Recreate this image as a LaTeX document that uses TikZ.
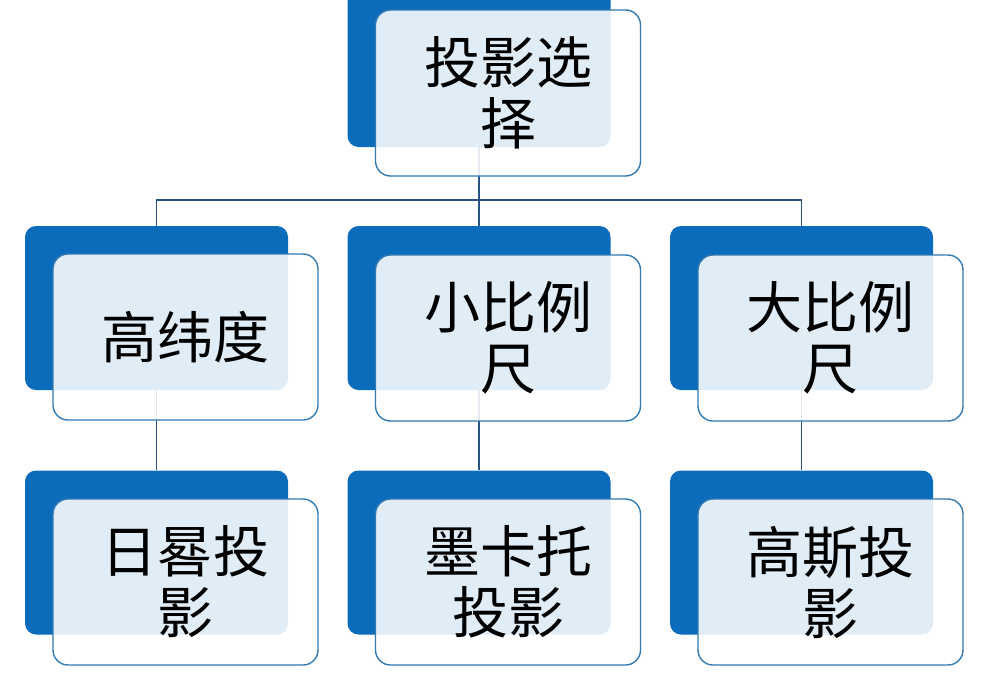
\documentclass[tikz,border=0pt]{standalone}
\usepackage{fontspec}
\newfontfamily\cjk{Noto Sans CJK SC}
\definecolor{backblue}{RGB}{12,108,188}
\definecolor{frontline}{RGB}{52,122,178}
\definecolor{connline}{RGB}{40,82,130}
\tikzset{
  backbox/.style={draw=none, fill=backblue, rounded corners=11pt, minimum width=263pt, minimum height=164pt, inner sep=0pt},
  frontbox/.style={draw=frontline, line width=1.4pt, fill=white, fill opacity=0.88, text opacity=1, rounded corners=15pt, minimum width=265pt, minimum height=166pt, inner sep=0pt, align=center, font=\cjk\fontsize{56}{61}\selectfont},
  conn/.style={draw=connline, line width=1.5pt}
}
\begin{document}
\begin{tikzpicture}[x=1pt,y=-1pt]
\useasboundingbox (0,0) rectangle (981,673);
\fill[white] (0,0) rectangle (981,673);
% back boxes
\node[backbox] (pb) at (479,65) {};
\node[backbox] (ab) at (156.5,308) {};
\node[backbox] (bb) at (479,308) {};
\node[backbox] (cb) at (801.5,308) {};
\node[backbox] (db) at (156.5,552.5) {};
\node[backbox] (eb) at (479,552.5) {};
\node[backbox] (fb) at (801.5,552.5) {};
% connectors
\coordinate (bus) at (0,200);
\draw[conn] (pb.south) -- (bb.north);
\draw[conn] (ab.north) -- (ab.north |- bus) -- (cb.north |- bus) -- (cb.north);
\draw[conn] (ab.south) -- (db.north);
\draw[conn] (bb.south) -- (eb.north);
\draw[conn] (cb.south) -- (fb.north);
% front boxes
\node[frontbox] (pf) at (508,93) {投影选\\择};
\node[frontbox] (af) at (185.5,337) {高纬度};
\node[frontbox] (bf) at (508,338) {小比例\\尺};
\node[frontbox] (cf) at (830.5,338) {大比例\\尺};
\node[frontbox] (df) at (185.5,582) {日晷投\\影};
\node[frontbox] (ef) at (508,582) {墨卡托\\投影};
\node[frontbox] (ff) at (830.5,582) {高斯投\\影};
\end{tikzpicture}
\end{document}
